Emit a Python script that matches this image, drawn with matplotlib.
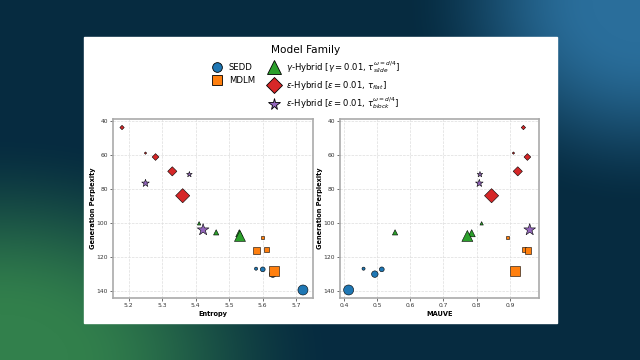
import numpy as np
import matplotlib
matplotlib.use("Agg")
import matplotlib.pyplot as plt
from matplotlib.lines import Line2D
from matplotlib.patches import Rectangle

# data (entropy, MAUVE, generation perplexity)
sedd_entropy = [5.58, 5.60, 5.63, 5.72]
sedd_mauve = [0.459, 0.514, 0.493, 0.414]
sedd_ppl = [126.8, 127.2, 130.0, 139.3]
sedd_rank = [1, 2, 3, 4]

mdlm_entropy = [5.60, 5.611, 5.581, 5.633]
mdlm_mauve = [0.892, 0.943, 0.955, 0.917]
mdlm_ppl = [108.6, 115.4, 116.0, 128.3]
mdlm_rank = [1, 2, 3, 4]

gamma_entropy = [5.41, 5.461, 5.53, 5.532]
gamma_mauve = [0.815, 0.554, 0.785, 0.772]
gamma_ppl = [100.2, 105.5, 106.0, 107.6]
gamma_rank = [1, 2, 3, 4]

flat_entropy = [5.25, 5.18, 5.28, 5.33, 5.361]
flat_mauve = [0.911, 0.941, 0.953, 0.924, 0.845]
flat_ppl = [59.0, 44.0, 61.3, 69.7, 84.0]
flat_rank = [0, 1, 2, 3, 4]

block_entropy = [5.381, 5.25, 5.422]
block_mauve = [0.81, 0.808, 0.96]
block_ppl = [71.5, 76.7, 104.0]
block_rank = [2, 3, 4]

labels = ["SEDD", "MDLM",
          r"$\gamma$-Hybrid [$\gamma=0.01$, $\tau^{\omega=d/4}_{slide}$]",
          r"$\varepsilon$-Hybrid [$\varepsilon=0.01$, $\tau_{flat}$]",
          r"$\varepsilon$-Hybrid [$\varepsilon=0.01$, $\tau^{\omega=d/4}_{block}$]"]

SIZES = [1.5, 5, 12, 22, 52]

families = [
    (sedd_entropy, sedd_mauve, sedd_ppl, sedd_rank, "o", "#1f77b4", 1.0),
    (mdlm_entropy, mdlm_mauve, mdlm_ppl, mdlm_rank, "s", "#ff7f0e", 1.0),
    (gamma_entropy, gamma_mauve, gamma_ppl, gamma_rank, "^", "#2ca02c", 1.2),
    (flat_entropy, flat_mauve, flat_ppl, flat_rank, "D", "#d62728", 1.0),
    (block_entropy, block_mauve, block_ppl, block_rank, "*", "#9467bd", 1.5),
]

fig = plt.figure(figsize=(6.4, 3.6), dpi=100)

# gradient background
H, W = 360, 640
yy, xx = np.mgrid[0:H, 0:W]
base = np.array([6, 43, 64]) / 255
blue = np.array([42, 110, 155]) / 255
green = np.array([50, 128, 76]) / 255


def smooth(t):
    t = np.clip(t, 0, 1)
    return t * t * (3 - 2 * t)


wb = smooth(1.25 * (1 - np.sqrt(((xx - 640) / 240) ** 2 + (yy / 210) ** 2)))
wg = smooth(1.25 * (1 - np.sqrt((xx / 340) ** 2 + ((yy - 360) / 230) ** 2)))
img = base[None, None, :] * (1 - wb - wg)[..., None] + blue * wb[..., None] + green * wg[..., None]
bg = fig.add_axes([0, 0, 1, 1])
bg.imshow(np.clip(img, 0, 1), aspect="auto", extent=[0, 1, 0, 1])
bg.axis("off")
bg.add_patch(Rectangle((84 / 640, 1 - 323 / 360), 473 / 640, 286 / 360,
                       transform=fig.transFigure, color="white", zorder=2))

ax1 = fig.add_axes([113 / 640, 1 - 298 / 360, 200 / 640, 179 / 360])
ax2 = fig.add_axes([340 / 640, 1 - 298 / 360, 199 / 640, 179 / 360])

for ex, mv, ppl, rank, mk, col, k in families:
    s = [SIZES[r] * k for r in rank]
    ax1.scatter(ex, ppl, s=s, marker=mk, c=col, edgecolors="black", linewidths=0.4, zorder=3)
    ax2.scatter(mv, ppl, s=s, marker=mk, c=col, edgecolors="black", linewidths=0.4, zorder=3)

ax1.set_xlim(5.153, 5.75)
ax2.set_xlim(0.388, 0.988)
ax1.set_xticks([5.2, 5.3, 5.4, 5.5, 5.6, 5.7])
ax2.set_xticks([0.4, 0.5, 0.6, 0.7, 0.8, 0.9])
for ax, xl in [(ax1, "Entropy"), (ax2, "MAUVE")]:
    ax.set_ylim(144, 39)
    ax.set_yticks([40, 60, 80, 100, 120, 140])
    ax.grid(True, linestyle="--", color="#dddddd", linewidth=0.5)
    ax.set_axisbelow(True)
    ax.tick_params(labelsize=4.3, colors="#333333", length=2, width=0.5, pad=1.5)
    for sp in ax.spines.values():
        sp.set_color("#aaaaaa")
        sp.set_linewidth(1.2)
    ax.set_xlabel(xl, fontsize=4.8, fontweight="bold", labelpad=2)
    ax.set_ylabel("Generation Perplexity", fontsize=4.8, fontweight="bold", labelpad=0.5)

handles = [
    Line2D([], [], marker="o", ls="", color="#1f77b4", mec="black", mew=0.6, ms=7),
    Line2D([], [], marker="s", ls="", color="#ff7f0e", mec="black", mew=0.6, ms=7),
    Line2D([], [], ls="", marker=None),
    Line2D([], [], marker="^", ls="", color="#2ca02c", mec="black", mew=0.6, ms=9.5),
    Line2D([], [], marker="D", ls="", color="#d62728", mec="black", mew=0.6, ms=8),
    Line2D([], [], marker="*", ls="", color="#9467bd", mec="black", mew=0.6, ms=8.5),
]
leg_labels = [labels[0], labels[1], "", labels[2], labels[3], labels[4]]
leg = fig.legend(handles, leg_labels, ncol=2, loc="upper center", bbox_to_anchor=(0.478, 0.895),
                 frameon=False, fontsize=6.1, title="Model Family", title_fontsize=7.6,
                 handletextpad=0.8, columnspacing=1.6, labelspacing=0.45, handlelength=1.2)
leg.set_zorder(5)

fig.savefig("out.png", dpi=100)
